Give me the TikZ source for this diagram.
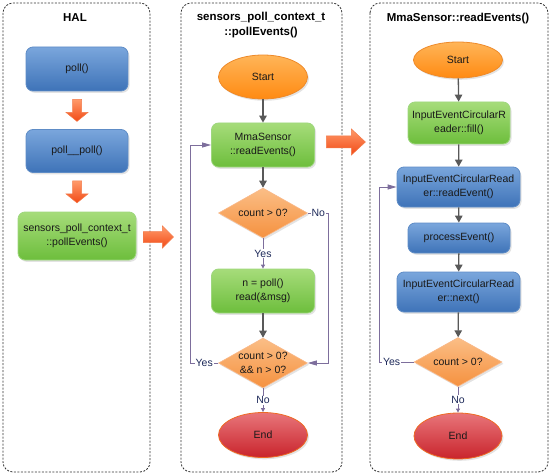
\documentclass[tikz,border=0pt]{standalone}
\usepackage{fontspec}
\setmainfont{Liberation Sans}
\usetikzlibrary{shapes.geometric,arrows.meta,shadows,calc}
\definecolor{bluetop}{HTML}{7AA6DC}
\definecolor{bluebot}{HTML}{3E73B8}
\definecolor{blueline}{HTML}{5E8CC6}
\definecolor{greentop}{HTML}{A6DC7A}
\definecolor{greenbot}{HTML}{6DBE3C}
\definecolor{greenline}{HTML}{9ED77E}
\definecolor{orgtop}{HTML}{FFB558}
\definecolor{orgbot}{HTML}{FF8A12}
\definecolor{orgline}{HTML}{EE8A2A}
\definecolor{dtop}{HTML}{FBBE86}
\definecolor{dbot}{HTML}{F5913F}
\definecolor{dline}{HTML}{F9B98A}
\definecolor{redtop}{HTML}{E8757A}
\definecolor{redbot}{HTML}{C9242C}
\definecolor{redline}{HTML}{EE6A24}
\definecolor{arrtop}{HTML}{FF9A6A}
\definecolor{arrbot}{HTML}{F24A16}
\definecolor{arrline}{HTML}{F37A4A}
\definecolor{conn}{HTML}{595959}
\definecolor{loopc}{HTML}{7D6E9C}
\definecolor{lblc}{HTML}{1E2A5A}
\begin{document}
\begin{tikzpicture}[x=1pt,y=-1pt,
  font=\fontsize{10.5}{14}\selectfont,
  lane/.style={draw=black!80, dash pattern=on 2pt off 1.5pt, rounded corners=10pt, line width=0.8pt},
  ttl/.style={font=\fontsize{11.5}{15}\selectfont\bfseries, align=center, text=black},
  shad/.style={drop shadow={opacity=0.22, shadow xshift=1.5pt, shadow yshift=-1.8pt}},
  sz/.style 2 args={minimum width=#1pt, minimum height=#2pt},
  bluebox/.style={rectangle, rounded corners=7pt, top color=bluetop, bottom color=bluebot, draw=blueline, line width=0.8pt, align=center, inner sep=1pt, text=black!90, shad},
  greenbox/.style={rectangle, rounded corners=7pt, top color=greentop, bottom color=greenbot, draw=greenline, line width=0.8pt, align=center, inner sep=1pt, text=black!90, shad},
  startnode/.style={ellipse, top color=orgtop, bottom color=orgbot, draw=orgline, line width=0.8pt, inner sep=0pt, text=black!90, shad},
  endnode/.style={ellipse, top color=redtop, bottom color=redbot, draw=redline, line width=0.8pt, inner sep=0pt, text=black!90, shad},
  decide/.style={diamond, aspect=1.78, top color=dtop, bottom color=dbot, draw=dline, line width=0.6pt, inner sep=0pt, text=black!90, shad},
  flow/.style={draw=conn, line width=1.3pt, -{Triangle[width=7.5pt,length=7pt]}},
  loopline/.style={draw=loopc, line width=0.9pt, -{Triangle[width=5pt,length=9pt]}},
  smallarr/.style={draw=loopc, line width=0.9pt, -{Triangle[width=4pt,length=4pt]}},
  lbl/.style={fill=white, inner sep=1pt, text=lblc},
  blockarrow/.style={top color=arrtop, bottom color=arrbot, draw=arrline, line width=0.5pt}
]
\useasboundingbox (0,0) rectangle (554,476);

% lanes
\draw[lane] (3,3) rectangle (150,472);
\draw[lane] (181,3) rectangle (342,472);
\draw[lane] (370,3) rectangle (548,472);

% titles
\node[ttl] (t1) at (75,18) {HAL};
\node[ttl] (t2) at (261,25) {sensors\_poll\_context\_t\\::pollEvents()};
\node[ttl] (t3) at (458,19) {MmaSensor::readEvents()};

% lane 1
\node[bluebox, sz={102}{44}] (poll) at (77,69) {poll()};
\node[bluebox, sz={102}{43}] (pp) at (77,151) {poll\_\_poll()};
\node[greenbox, sz={118}{48}] (spc) at (77,236) {sensors\_poll\_context\_t\\::pollEvents()};

\path[blockarrow] ($(poll.south)+(-4.5,8)$) -- ++(9,0) -- ++(0,13) -- ++(6.5,0) -- ++(-11,9) -- ++(-11,-9) -- ++(6.5,0) -- cycle;
\path[blockarrow] ($(pp.south)+(-4.5,8)$) -- ++(9,0) -- ++(0,13) -- ++(6.5,0) -- ++(-11,9) -- ++(-11,-9) -- ++(6.5,0) -- cycle;
\path[blockarrow] ($(spc.east)+(7,-4.5)$) -- ++(19,0) -- ++(0,-5.5) -- ++(11,11) -- ++(-11,11) -- ++(0,-5.5) -- ++(-19,0) -- cycle;

% lane 2
\node[startnode, sz={89}{44}] (s2) at (263,77) {Start};
\node[greenbox, sz={103}{44}] (m2) at (263,145) {MmaSensor\\::readEvents()};
\node[decide, sz={89}{50}] (d1) at (263,213) {count > 0?};
\node[greenbox, sz={103}{44}] (n2) at (263,291) {n = poll()\\read(\&msg)};
\node[decide, sz={89}{50}, label={[align=center, text=black!90]center:{count > 0?\\\&\& n > 0?}}] (d2) at (263,363) {};
\node[endnode, sz={89}{45}] (e2) at (263,435) {End};

\path[blockarrow] ($(m2.east)+(11.5,-9)$) -- ++(25,0) -- ++(0,-7) -- ++(14,13) -- ++(-14,13) -- ++(0,-7) -- ++(-25,0) -- cycle;

\draw[flow] (s2) -- (m2);
\draw[flow] (m2) -- (d1);
\draw[smallarr] (d1.south) -- node[lbl]{Yes} (n2.north);
\draw[flow] (n2) -- (d2);
\draw[smallarr] (d2.south) -- node[lbl]{No} (e2.north);
\draw[loopline] (d1.east) -- node[lbl]{No} ($(d1.east)+(21,0)$) |- (d2.east);
\draw[loopline] (d2.west) -- node[lbl]{Yes} ($(d2.west)+(-28,0)$) |- (m2.west);

% lane 3
\node[startnode, sz={89}{36}] (s3) at (458,60) {Start};
\node[greenbox, sz={102}{42}] (f3) at (459,123) {InputEventCircularR\\eader::fill()};
\node[bluebox, sz={123}{40}] (r3) at (458.5,187) {InputEventCircularRead\\er::readEvent()};
\node[bluebox, sz={102}{30}] (p3) at (459,238) {processEvent()};
\node[bluebox, sz={123}{40}] (x3) at (458.5,292) {InputEventCircularRead\\er::next()};
\node[decide, sz={88}{49}] (d3) at (458,362) {count > 0?};
\node[endnode, sz={88}{46}] (e3) at (458,436) {End};

\draw[flow] (s3) -- (f3);
\draw[flow] (f3) -- (r3);
\draw[flow] (r3) -- (p3);
\draw[flow] (p3) -- (x3);
\draw[flow] (x3) -- (d3);
\draw[smallarr] (d3.south) -- node[lbl]{No} (e3.north);
\draw[loopline] (d3.west) -- node[lbl, pos=0.65]{Yes} ($(d3.west)+(-34,0)$) |- (r3.west);
\end{tikzpicture}
\end{document}
